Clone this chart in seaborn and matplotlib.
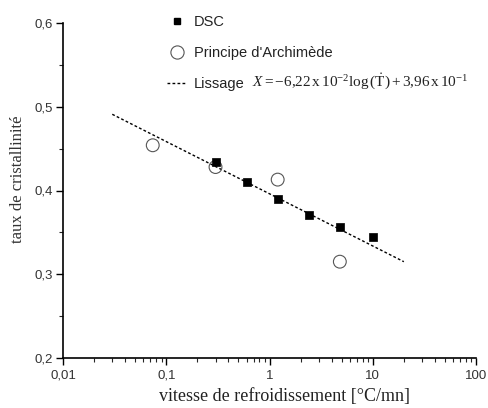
import matplotlib
matplotlib.use("Agg")
import matplotlib.pyplot as plt
import seaborn as sns
import pandas as pd
import numpy as np
from matplotlib.lines import Line2D
from matplotlib.ticker import FixedLocator, LogLocator, NullFormatter

# ---- data ----
dsc_rate = [0.3, 0.6, 1.2, 2.4, 4.8, 10.0]
dsc_cryst = [0.434, 0.410, 0.390, 0.371, 0.357, 0.344]

arch_rate = [0.074, 0.3, 1.2, 4.8]
arch_cryst = [0.454, 0.428, 0.413, 0.315]

fit_rate = [0.03, 20.0]
fit_cryst = [0.491, 0.315]

y_ticks = [0.2, 0.3, 0.4, 0.5, 0.6]
y_ticklabels = ["0,2", "0,3", "0,4", "0,5", "0,6"]
x_ticks = [0.01, 0.1, 1, 10, 100]
x_ticklabels = ["0,01", "0,1", "1", "10", "100"]

sns.set_style("ticks")
plt.rcParams["font.family"] = ["Liberation Sans", "DejaVu Sans"]
plt.rcParams["mathtext.fontset"] = "custom"
plt.rcParams["mathtext.rm"] = "Liberation Serif"
plt.rcParams["mathtext.it"] = "Liberation Serif:italic"

fig = plt.figure(figsize=(4.88, 4.08), dpi=100)
ax = fig.add_axes([63/488, 50/408, (476-63)/488, (358-23)/408])

df_dsc = pd.DataFrame({"rate": dsc_rate, "cryst": dsc_cryst})
df_arch = pd.DataFrame({"rate": arch_rate, "cryst": arch_cryst})
df_fit = pd.DataFrame({"rate": fit_rate, "cryst": fit_cryst})

sns.lineplot(data=df_fit, x="rate", y="cryst", ax=ax, color="black",
             linewidth=1.0, dashes=False, linestyle=(0, (2, 1.6)), zorder=1)
sns.scatterplot(data=df_dsc, x="rate", y="cryst", ax=ax, marker="s",
                s=28, color="black", edgecolor="black", linewidth=0.5, zorder=3)
sns.scatterplot(data=df_arch, x="rate", y="cryst", ax=ax, marker="o",
                s=85, facecolor="none", edgecolor="#555555", linewidth=0.8, zorder=2)

ax.set_xscale("log")
ax.set_xlim(0.01, 100)
ax.set_ylim(0.2, 0.6)

ax.xaxis.set_major_locator(FixedLocator(x_ticks))
ax.set_xticklabels(x_ticklabels)
ax.xaxis.set_minor_locator(LogLocator(base=10, subs=np.arange(2, 10)))
ax.xaxis.set_minor_formatter(NullFormatter())
ax.yaxis.set_major_locator(FixedLocator(y_ticks))
ax.set_yticklabels(y_ticklabels)
ax.yaxis.set_minor_locator(FixedLocator([0.25, 0.35, 0.45, 0.55]))

for s in ["top", "right"]:
    ax.spines[s].set_visible(False)
for s in ["left", "bottom"]:
    ax.spines[s].set_linewidth(1.2)
    ax.spines[s].set_color("black")

ax.tick_params(axis="both", which="major", direction="out", length=5, width=1.0,
               labelsize=9.5, colors="black", labelcolor="#333333", pad=2)
ax.tick_params(axis="x", which="major", pad=3.5)
ax.tick_params(axis="both", which="minor", direction="out", length=3, width=0.8)

ax.set_xlabel("vitesse de refroidissement [°C/mn]", family="Liberation Serif",
              fontsize=13, color="#222222")
ax.xaxis.set_label_coords(0.537, -0.09)
ax.set_ylabel("taux de cristallinité", family="Liberation Serif",
              fontsize=12, color="#333333")
ax.yaxis.set_label_coords(-0.09, 0.534)

handles = [
    Line2D([], [], marker="s", color="black", linestyle="none", markersize=5),
    Line2D([], [], marker="o", markerfacecolor="none", markeredgecolor="#555555",
           linestyle="none", markersize=9.5, markeredgewidth=0.8),
    Line2D([], [], color="black", linestyle=(0, (2, 1.6)), linewidth=1.0),
]
labels = ["DSC", "Principe d'Archimède", "Lissage"]
leg = fig.legend(handles, labels, loc="upper left",
                 bbox_to_anchor=(160/488, 1 - 8/408), frameon=False,
                 fontsize=10.5, handlelength=1.3, handletextpad=0.5,
                 labelspacing=1.15, borderpad=0)
for t in leg.get_texts():
    t.set_color("#222222")

fig.text(252/488, 1 - 81/408,
         r"$X=-6{,}22\,\mathrm{x}\,10^{-2}\mathrm{log}\,(\dot{\mathrm{T}})+3{,}96\,\mathrm{x}\,10^{-1}$",
         fontsize=11, va="center", ha="left", color="#222222")

fig.savefig("out.png", dpi=100)
